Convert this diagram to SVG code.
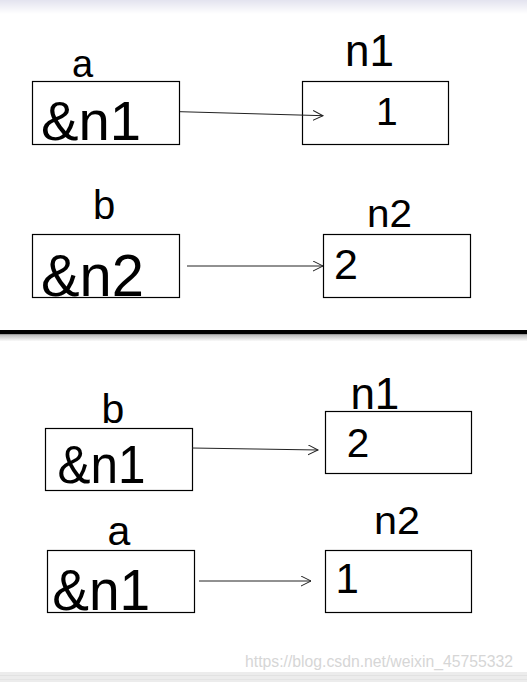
<svg xmlns="http://www.w3.org/2000/svg" width="527" height="682" viewBox="0 0 527 682">
  <defs>
    <linearGradient id="topband" x1="0" y1="0" x2="0" y2="1">
      <stop offset="0" stop-color="#e3e3ef"/>
      <stop offset="1" stop-color="#ffffff"/>
    </linearGradient>
    <linearGradient id="shadow" x1="0" y1="0" x2="0" y2="1">
      <stop offset="0" stop-color="#b8b8b8"/>
      <stop offset="1" stop-color="#ffffff"/>
    </linearGradient>
    <marker id="arr" markerUnits="userSpaceOnUse" markerWidth="12" markerHeight="12" refX="10" refY="5" orient="auto">
      <path d="M0,0 L10,5 L0,10" fill="none" stroke="#222" stroke-width="1"/>
    </marker>
  </defs>
  <style>
    .box { fill: #fff; stroke: #000; stroke-width: 1.2; }
    .t { font-family: "Liberation Sans", Arial, sans-serif; fill: #000; }
    .conn { stroke: #222; stroke-width: 1; fill: none; marker-end: url(#arr); }
  </style>
  <rect x="0" y="0" width="527" height="682" fill="#fff"/>
  <rect x="0" y="0" width="527" height="14" fill="url(#topband)"/>
  <rect x="0" y="330" width="527" height="4.5" fill="#000"/>
  <rect x="0" y="334.5" width="527" height="7" fill="url(#shadow)"/>
  <rect x="0" y="672" width="527" height="10" fill="#ececec"/>
  <line x1="0" y1="675.5" x2="527" y2="675.5" stroke="#e2e2e2" stroke-width="1"/>
  <line x1="0" y1="679.5" x2="527" y2="679.5" stroke="#e4e4e4" stroke-width="1"/>

  <g id="top-a">
    <rect class="box" x="32.5" y="81.5" width="147" height="63"/>
    <text class="t" x="72" y="77" font-size="38">a</text>
    <text class="t" x="41" y="140" font-size="56" textLength="100" lengthAdjust="spacingAndGlyphs">&amp;n1</text>
  </g>
  <g id="top-n1">
    <rect class="box" x="302.5" y="81.5" width="146" height="63"/>
    <text class="t" x="345" y="66" font-size="44">n1</text>
    <text class="t" x="376" y="125" font-size="39">1</text>
  </g>
  <g id="top-b">
    <rect class="box" x="32.5" y="234.5" width="147" height="63"/>
    <text class="t" x="93" y="219" font-size="40">b</text>
    <text class="t" x="41" y="296" font-size="60" textLength="103" lengthAdjust="spacingAndGlyphs">&amp;n2</text>
  </g>
  <g id="top-n2">
    <rect class="box" x="323.5" y="234.5" width="147" height="63"/>
    <text class="t" x="367" y="227" font-size="38" textLength="45" lengthAdjust="spacingAndGlyphs">n2</text>
    <text class="t" x="334" y="279" font-size="43">2</text>
  </g>

  <g id="bottom-b">
    <rect class="box" x="45.5" y="428.5" width="147" height="62"/>
    <text class="t" x="101.5" y="423" font-size="41">b</text>
    <text class="t" x="57.4" y="483" font-size="54" textLength="88" lengthAdjust="spacingAndGlyphs">&amp;n1</text>
  </g>
  <g id="bottom-n1">
    <rect class="box" x="325.5" y="411.5" width="146" height="62"/>
    <text class="t" x="350.4" y="409" font-size="44">n1</text>
    <text class="t" x="346.8" y="457" font-size="40.5">2</text>
  </g>
  <g id="bottom-a">
    <rect class="box" x="47.5" y="550.5" width="147" height="62"/>
    <text class="t" x="107.4" y="545" font-size="41">a</text>
    <text class="t" x="52.2" y="610" font-size="58" textLength="98" lengthAdjust="spacingAndGlyphs">&amp;n1</text>
  </g>
  <g id="bottom-n2">
    <rect class="box" x="325.5" y="550.5" width="146" height="62"/>
    <text class="t" x="374" y="533.5" font-size="38" textLength="46" lengthAdjust="spacingAndGlyphs">n2</text>
    <text class="t" x="335.5" y="593" font-size="42">1</text>
  </g>

  <g id="connectors">
    <line class="conn" x1="180" y1="111.7" x2="323" y2="115.7"/>
    <line class="conn" x1="187" y1="266" x2="323" y2="266"/>
    <line class="conn" x1="192" y1="448" x2="318" y2="450"/>
    <line class="conn" x1="199" y1="581" x2="311" y2="581"/>
  </g>

  <text class="t" x="245" y="667" font-size="16.5" style="fill:#d6d6d6" textLength="268" lengthAdjust="spacingAndGlyphs">https://blog.csdn.net/weixin_45755332</text>
</svg>
